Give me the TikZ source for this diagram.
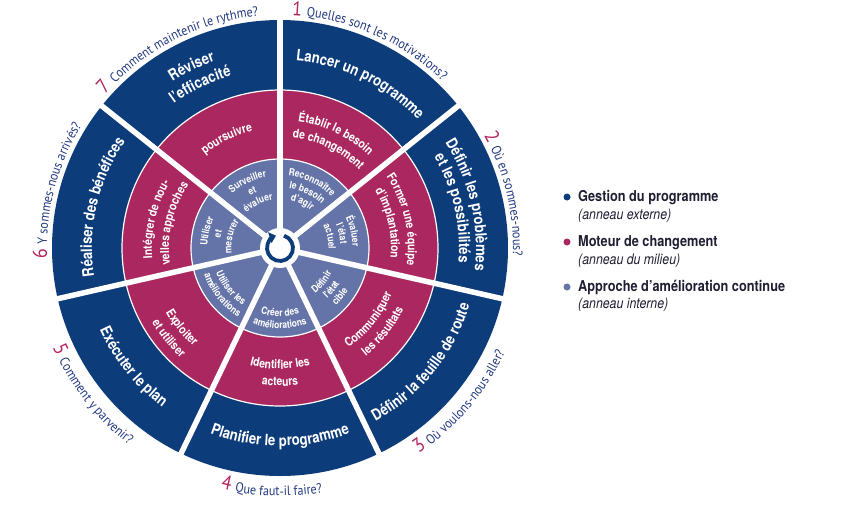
\documentclass[tikz,border=0pt]{standalone}
\usepackage{fontspec}
\setmainfont{PT Sans}
\newfontfamily\condfont[FakeStretch=0.85]{TeX Gyre Heros}
\newfontfamily\quesfam[FakeStretch=0.9]{PT Sans}
\usetikzlibrary{arrows.meta,decorations.text}

\definecolor{ringblue}{HTML}{0D3C7B}
\definecolor{ringred}{HTML}{AA285F}
\definecolor{ringslate}{HTML}{6474A8}
\definecolor{quesblue}{HTML}{233A80}
\definecolor{numred}{HTML}{B3245F}
\definecolor{legtext}{HTML}{1F1F33}

\newcommand{\outerlbl}{\condfont\bfseries\fontsize{15.5}{18}\selectfont}
\newcommand{\middlelbl}{\condfont\bfseries\fontsize{12.2}{14}\selectfont}
\newcommand{\innerlbl}{\condfont\bfseries\fontsize{10}{12}\selectfont}
\newcommand{\quesfont}{\quesfam\fontsize{13.5}{16}\selectfont}
\newcommand{\qnumfont}{\quesfam\color{numred}\fontsize{20}{22}\selectfont}

\begin{document}
\begin{tikzpicture}[
    ringtext/.style={decorate, decoration={text along path, text align=center, text color=white}},
    questext/.style={decorate, decoration={text along path, text align=center, text color=quesblue}},
    legtitle/.style={anchor=base west, inner sep=0pt, text=legtext, font=\condfont\bfseries\fontsize{15}{18}\selectfont},
    legnote/.style={anchor=base west, inner sep=0pt, text=legtext, font=\condfont\itshape\fontsize{14.5}{17}\selectfont}]
\useasboundingbox (-280pt,-267pt) rectangle (565pt,248pt);
% rings
\fill[ringblue] (0,0) circle (228pt);
\fill[ringred] (0,0) circle (158pt);
\draw[white, line width=1.2pt] (0,0) circle (158pt);
\fill[ringslate] (0,0) circle (89pt);
\draw[white, line width=1.2pt] (0,0) circle (89pt);
% spokes
\draw[white, line width=5.5pt] (0,0) -- (90:232pt);
\draw[white, line width=5.5pt] (0,0) -- (38.57:232pt);
\draw[white, line width=5.5pt] (0,0) -- (-12.86:232pt);
\draw[white, line width=5.5pt] (0,0) -- (-64.29:232pt);
\draw[white, line width=5.5pt] (0,0) -- (-115.71:232pt);
\draw[white, line width=5.5pt] (0,0) -- (-167.14:232pt);
\draw[white, line width=5.5pt] (0,0) -- (141.43:232pt);
% hub
\fill[white] (0,0) circle (20pt);
\draw[ringblue, line width=3.8pt, -{Triangle[length=6.5pt,width=11pt]}] (72:13pt) arc (72:-252:13pt);

% outer ring
\path[ringtext, decoration={text={|\outerlbl|Lancer un programme}}] (100:188pt) arc (100:28:188pt);
\path[ringtext, decoration={text={|\outerlbl|Définir les problèmes}}] (49:196pt) arc (49:-23:196pt);
\path[ringtext, decoration={text={|\outerlbl|et les possibilités}}] (49:179pt) arc (49:-23:179pt);
\path[ringtext, decoration={text={|\outerlbl|Définir la feuille de route}}] (-75:198pt) arc (-75:-3:198pt);
\path[ringtext, decoration={text={|\outerlbl|Planifier le programme}}] (-126:198pt) arc (-126:-54:198pt);
\path[ringtext, decoration={text={|\outerlbl|Exécuter le plan}}] (-177:198pt) arc (-177:-105:198pt);
\path[ringtext, decoration={text={|\outerlbl|Réaliser des bénéfices}}] (203:188pt) arc (203:131:188pt);
\path[ringtext, decoration={text={|\outerlbl|Réviser}}] (152:198pt) arc (152:80:198pt);
\path[ringtext, decoration={text={|\outerlbl|l’efficacité}}] (152:179pt) arc (152:80:179pt);

% middle ring
\path[ringtext, decoration={text={|\middlelbl|Établir le besoin}}] (100:128pt) arc (100:28:128pt);
\path[ringtext, decoration={text={|\middlelbl|de changement}}] (100:111pt) arc (100:28:111pt);
\path[ringtext, decoration={text={|\middlelbl|Former une équipe}}] (49:128pt) arc (49:-23:128pt);
\path[ringtext, decoration={text={|\middlelbl|d’implantation}}] (49:111pt) arc (49:-23:111pt);
\path[ringtext, decoration={text={|\middlelbl|Communiquer}}] (-75:121pt) arc (-75:-3:121pt);
\path[ringtext, decoration={text={|\middlelbl|les résultats}}] (-75:138pt) arc (-75:-3:138pt);
\path[ringtext, decoration={text={|\middlelbl|Identifier les}}] (-126:121pt) arc (-126:-54:121pt);
\path[ringtext, decoration={text={|\middlelbl|acteurs}}] (-126:138pt) arc (-126:-54:138pt);
\path[ringtext, decoration={text={|\middlelbl|Exploiter}}] (-177:131pt) arc (-177:-105:131pt);
\path[ringtext, decoration={text={|\middlelbl|et utiliser}}] (-177:148pt) arc (-177:-105:148pt);
\path[ringtext, decoration={text={|\middlelbl|Intégrer de nou-}}] (203:128pt) arc (203:131:128pt);
\path[ringtext, decoration={text={|\middlelbl|velles approches}}] (203:111pt) arc (203:131:111pt);
\path[ringtext, decoration={text={|\middlelbl|poursuivre}}] (152:120pt) arc (152:80:120pt);

% inner ring
\path[ringtext, decoration={text={|\innerlbl|Reconnaître}}] (100:72.5pt) arc (100:28:72.5pt);
\path[ringtext, decoration={text={|\innerlbl|le besoin}}] (100:60.5pt) arc (100:28:60.5pt);
\path[ringtext, decoration={text={|\innerlbl|d’agir}}] (100:48.5pt) arc (100:28:48.5pt);
\path[ringtext, decoration={text={|\innerlbl|Évaluer}}] (49:72.5pt) arc (49:-23:72.5pt);
\path[ringtext, decoration={text={|\innerlbl|l’état}}] (49:60.5pt) arc (49:-23:60.5pt);
\path[ringtext, decoration={text={|\innerlbl|actuel}}] (49:48.5pt) arc (49:-23:48.5pt);
\path[ringtext, decoration={text={|\innerlbl|Définir}}] (-75:57.5pt) arc (-75:-3:57.5pt);
\path[ringtext, decoration={text={|\innerlbl|l’état}}] (-75:69.5pt) arc (-75:-3:69.5pt);
\path[ringtext, decoration={text={|\innerlbl|cible}}] (-75:80.5pt) arc (-75:-3:80.5pt);
\path[ringtext, decoration={text={|\innerlbl|Créer des}}] (-126:68.5pt) arc (-126:-54:68.5pt);
\path[ringtext, decoration={text={|\innerlbl|améliorations}}] (-126:80.5pt) arc (-126:-54:80.5pt);
\path[ringtext, decoration={text={|\innerlbl|Utiliser les}}] (-177:68.5pt) arc (-177:-105:68.5pt);
\path[ringtext, decoration={text={|\innerlbl|améliorations}}] (-177:80.5pt) arc (-177:-105:80.5pt);
\path[ringtext, decoration={text={|\innerlbl|Utiliser}}] (203:72.5pt) arc (203:131:72.5pt);
\path[ringtext, decoration={text={|\innerlbl|et}}] (203:60.5pt) arc (203:131:60.5pt);
\path[ringtext, decoration={text={|\innerlbl|mesurer}}] (203:48.5pt) arc (203:131:48.5pt);
\path[ringtext, decoration={text={|\innerlbl|Surveiller}}] (152:72.5pt) arc (152:80:72.5pt);
\path[ringtext, decoration={text={|\innerlbl|et}}] (152:60.5pt) arc (152:80:60.5pt);
\path[ringtext, decoration={text={|\innerlbl|évaluer}}] (152:48.5pt) arc (152:80:48.5pt);

% questions
\path[questext, decoration={text={|\qnumfont|1 |\quesfont|Quelles sont les motivations?}}] (110:233pt) arc (110:23:233pt);
\path[questext, decoration={text={|\qnumfont|2 |\quesfont|Où en sommes-nous?}}] (57:233pt) arc (57:-30:233pt);
\path[questext, decoration={text={|\qnumfont|3 |\quesfont|Où voulons-nous aller?}}] (-84:248pt) arc (-84:3:248pt);
\path[questext, decoration={text={|\qnumfont|4 |\quesfont|Que faut-il faire?}}] (-135:248pt) arc (-135:-49:248pt);
\path[questext, decoration={text={|\qnumfont|5 |\quesfont|Comment y parvenir?}}] (-185:248pt) arc (-185:-99:248pt);
\path[questext, decoration={text={|\qnumfont|6 |\quesfont|Y sommes-nous arrivés?}}] (209:233pt) arc (209:122:233pt);
\path[questext, decoration={text={|\qnumfont|7 |\quesfont|Comment maintenir le rythme?}}] (160:233pt) arc (160:74:233pt);

% legend
\fill[ringblue] (287pt,51pt) circle (3.5pt);
\node[legtitle] (gestion) at (298pt,47pt) {Gestion du programme};
\node[legnote] (externe) at (298pt,29pt) {(anneau externe)};
\fill[ringred] (287pt,6pt) circle (3.5pt);
\node[legtitle] (moteur) at (298pt,2pt) {Moteur de changement};
\node[legnote] (milieu) at (298pt,-16pt) {(anneau du milieu)};
\fill[ringslate] (287pt,-39pt) circle (3.5pt);
\node[legtitle] (approche) at (298pt,-43pt) {Approche d’amélioration continue};
\node[legnote] (interne) at (298pt,-60pt) {(anneau interne)};
\end{tikzpicture}
\end{document}
